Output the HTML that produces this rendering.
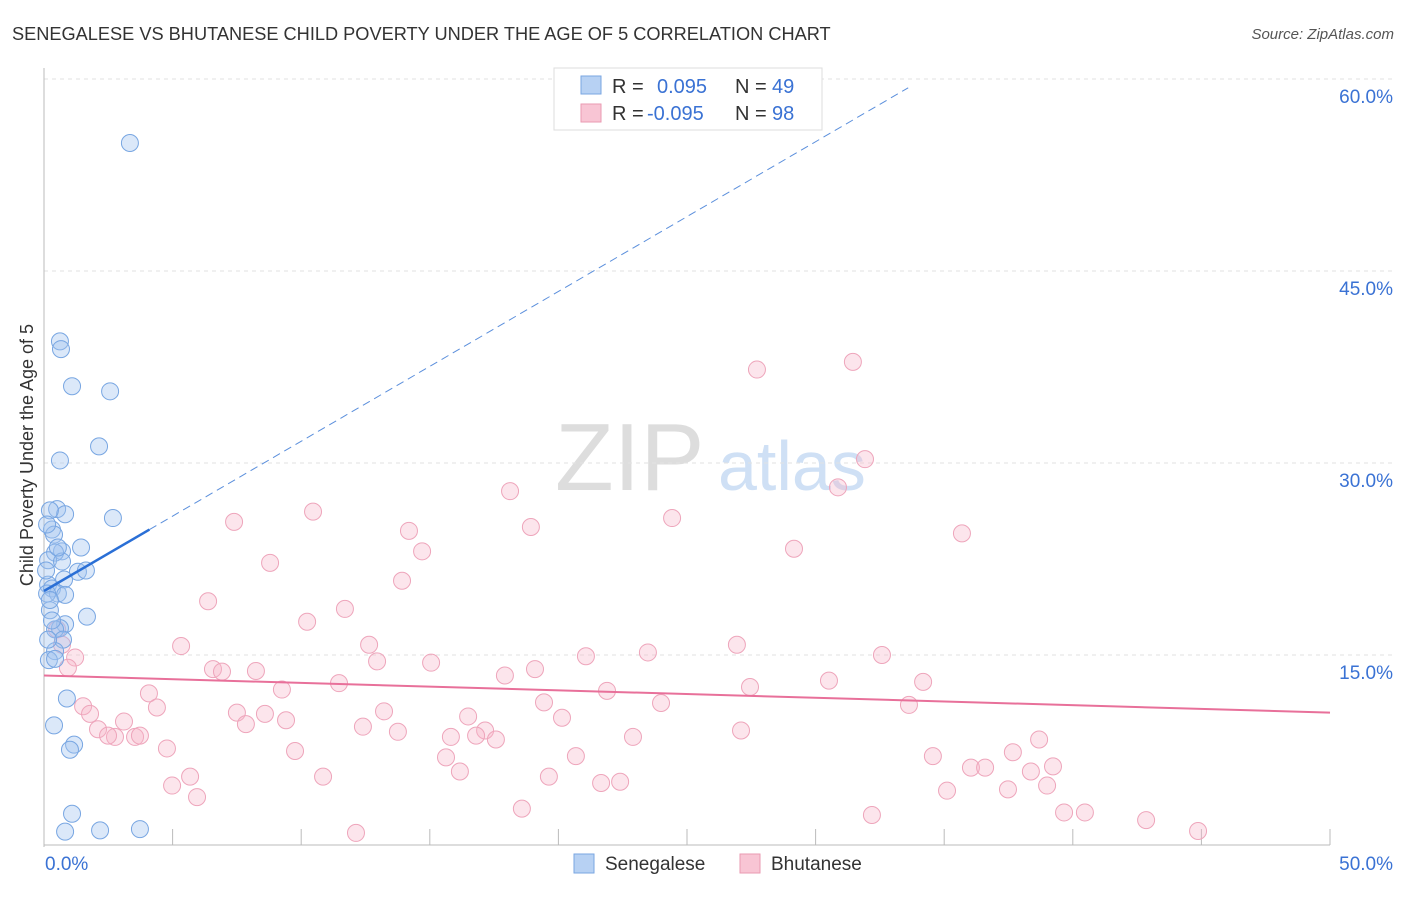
<!DOCTYPE html>
<html><head><meta charset="utf-8"><style>
body{margin:0;background:#fff;font-family:"Liberation Sans",sans-serif;}
svg text{font-family:"Liberation Sans",sans-serif;}
</style></head><body>
<svg id="c" width="1406" height="892">
<text x="12" y="40" font-size="18.2" fill="#333">SENEGALESE VS BHUTANESE CHILD POVERTY UNDER THE AGE OF 5 CORRELATION CHART</text>
<text x="1394" y="39" font-size="15" fill="#555" font-style="italic" text-anchor="end">Source: ZipAtlas.com</text>
<text x="33" y="455" font-size="18" fill="#333" text-anchor="middle" transform="rotate(-90 33 455)">Child Poverty Under the Age of 5</text>
<g><text x="555" y="490" font-size="96" fill="#ddd" font-family="Liberation Serif">ZIP</text><text x="718" y="490" font-size="70" fill="#cfe0f5">atlas</text></g>
<g id="grid"></g><g id="axes"></g><g id="pts"></g><g id="trends"></g>
<g>
<rect x="554" y="68" width="268" height="62" fill="#fff" stroke="#ddd"/>
<rect x="581" y="76" width="20" height="18" fill="#b7d1f3" stroke="#7aa6e2"/>
<rect x="581" y="104" width="20" height="18" fill="#f8c5d4" stroke="#ea9ab2"/>
<text x="612" y="93" font-size="20" fill="#333">R = <tspan fill="#3a72d4" x="657">0.095</tspan><tspan fill="#333" x="735">N =</tspan><tspan fill="#3a72d4" x="772">49</tspan></text>
<text x="612" y="120" font-size="20" fill="#333">R = <tspan fill="#3a72d4" x="647">-0.095</tspan><tspan fill="#333" x="735">N =</tspan><tspan fill="#3a72d4" x="772">98</tspan></text>
</g>
<g>
<rect x="574" y="854" width="20" height="19" fill="#b7d1f3" stroke="#7aa6e2"/>
<text x="605" y="870" font-size="19" fill="#333">Senegalese</text>
<rect x="740" y="854" width="20" height="19" fill="#f8c5d4" stroke="#ea9ab2"/>
<text x="771" y="870" font-size="19" fill="#333">Bhutanese</text>
</g>
</svg>
<script>
const yTicks=[15,30,45,60];
const yTickLabels=["15.0%","30.0%","45.0%","60.0%"];
const xTicks=[0,5,10,15,20,25,30,35,40,45,50];
const xEndLabels=["0.0%","50.0%"];
const senX=[3.34,0.62,0.66,1.09,2.57,2.14,0.62,0.51,0.82,2.68,0.23,0.31,0.39,1.44,0.70,0.43,0.16,0.70,1.32,1.63,0.78,0.16,0.31,0.54,0.82,0.12,1.67,0.23,0.82,0.62,0.43,0.74,0.43,0.19,0.43,0.89,0.39,1.17,1.01,1.09,0.82,2.18,3.73,0.16,0.31,0.08,0.23,0.54,0.12];
const senY=[55.0,39.5,38.9,36.0,35.6,31.3,30.2,26.4,26.0,25.7,26.3,24.8,24.4,23.4,23.1,23.0,22.4,22.3,21.5,21.6,20.9,20.5,20.2,19.8,19.7,19.8,18.0,18.5,17.4,17.1,17.0,16.2,15.3,14.6,14.7,11.6,9.5,8.0,7.6,2.6,1.2,1.3,1.4,16.2,17.7,21.6,19.3,23.4,25.2];
const bhuX=[27.72,31.45,31.92,30.87,18.12,24.42,18.93,7.39,10.46,35.69,14.19,14.70,29.16,8.79,13.92,6.38,11.70,10.23,5.33,12.64,26.94,23.48,21.07,12.95,15.05,32.58,6.57,6.92,8.24,19.09,17.92,30.52,34.18,11.47,9.25,21.89,27.45,4.08,19.44,23.99,33.63,4.39,13.22,16.49,20.14,7.50,8.59,9.41,7.85,3.11,12.40,13.76,17.15,16.80,17.57,22.90,27.10,15.82,2.10,2.76,2.49,3.54,3.73,4.78,9.76,15.63,20.68,34.56,37.67,38.69,39.23,36.04,36.59,38.37,16.17,19.63,10.85,5.68,21.66,22.40,4.98,5.95,35.11,37.48,39.00,18.58,39.66,40.47,32.19,42.85,44.87,12.13,1.21,0.93,0.51,0.70,1.52,1.79];
const bhuY=[37.3,37.9,30.3,28.1,27.8,25.7,25.0,25.4,26.2,24.5,24.7,23.1,23.3,22.2,20.8,19.2,18.6,17.6,15.7,15.8,15.8,15.2,14.9,14.5,14.4,15.0,13.9,13.7,13.75,13.9,13.4,13.0,12.9,12.8,12.3,12.2,12.5,12.0,11.3,11.25,11.1,10.9,10.6,10.2,10.1,10.5,10.4,9.9,9.6,9.8,9.4,9.0,9.1,8.7,8.4,8.6,9.1,8.6,9.2,8.6,8.7,8.6,8.7,7.7,7.5,7.0,7.1,7.1,7.4,8.4,6.3,6.2,6.2,5.9,5.9,5.5,5.5,5.5,5.0,5.1,4.8,3.9,4.4,4.5,4.8,3.0,2.7,2.7,2.5,2.1,1.25,1.1,14.8,14.0,17.0,15.8,11.0,10.4];
const senTrend=[20.0,1.17];
const senSolidEnd=[4.1];
const senDashEnd=[33.6];
const bhuTrend=[13.4,-0.058];

const X0=44,X1=1330,Y0=847,PXY=12.8;
const sx=v=>X0+(X1-X0)*v/50;
const sy=v=>Y0-v*PXY;
const NS="http://www.w3.org/2000/svg";
function mk(t,a,p){const e=document.createElementNS(NS,t);for(const k in a)e.setAttribute(k,a[k]);p.appendChild(e);return e;}
const grid=document.getElementById('grid'),axes=document.getElementById('axes'),pts=document.getElementById('pts'),tr=document.getElementById('trends');
yTicks.forEach((v,i)=>{
 const l=mk('line',{x1:X0,x2:1394,y1:sy(v),y2:sy(v),stroke:'#e2e2e2','stroke-dasharray':'4,4'},grid);
 
 
 const t=mk('text',{x:1393,y:sy(v)+24,'font-size':19,fill:'#3a72d4','text-anchor':'end'},axes);
 t.textContent=yTickLabels[i];
 
 
});
const ax=mk('line',{x1:X0,x2:X0,y1:68,y2:Y0,stroke:'#bbb'},axes);


const bx=mk('line',{x1:X0,x2:X1,y1:845,y2:845,stroke:'#bbb'},axes);


xTicks.forEach(v=>{
 const l=mk('line',{x1:sx(v),x2:sx(v),y1:829,y2:845,stroke:'#bbb'},axes);
 
 
});
[[0,'start',45],[50,'end',1393]].forEach((d,i)=>{
 const t=mk('text',{x:d[2],y:870,'font-size':19,fill:'#3a72d4','text-anchor':d[1]},axes);
 t.textContent=xEndLabels[i];
 
 
});
bhuX.forEach((v,i)=>{
 const c=mk('circle',{cx:sx(v),cy:sy(bhuY[i]),r:8.5,fill:'rgba(245,180,200,0.35)',stroke:'#eea5bb','stroke-width':1},pts);
 
 
});
senX.forEach((v,i)=>{
 const c=mk('circle',{cx:sx(v),cy:sy(senY[i]),r:8.5,fill:'rgba(160,195,240,0.38)',stroke:'#78a6e2','stroke-width':1},pts);
 
 
});
const f=(t,x)=>t[0]+t[1]*x;
const s1=mk('line',{x1:sx(0),y1:sy(f(senTrend,0)),x2:sx(senSolidEnd[0]),y2:sy(f(senTrend,senSolidEnd[0])),stroke:'#2a6fd6','stroke-width':2.5},tr);


const s2=mk('line',{x1:sx(senSolidEnd[0]),y1:sy(f(senTrend,senSolidEnd[0])),x2:sx(senDashEnd[0]),y2:sy(f(senTrend,senDashEnd[0])),stroke:'#5b8fdc','stroke-width':1,'stroke-dasharray':'8,5'},tr);


const b1=mk('line',{x1:sx(0),y1:sy(f(bhuTrend,0)),x2:sx(50),y2:sy(f(bhuTrend,50)),stroke:'#e8709a','stroke-width':2},tr);


</script>
</body></html>
